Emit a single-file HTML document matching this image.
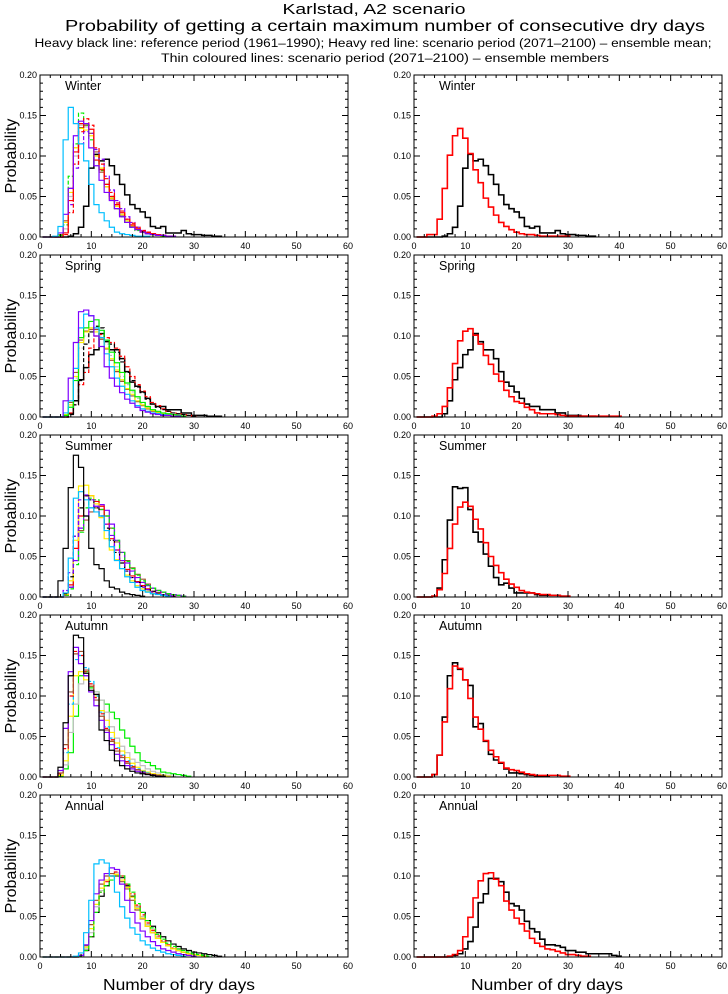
<!DOCTYPE html>
<html><head><meta charset="utf-8"><style>
body{margin:0;background:#fff;}
svg{display:block;font-family:"Liberation Sans",sans-serif;}
</style></head><body>
<svg id="chart" width="728" height="994" viewBox="0 0 728 994">
<rect width="728" height="994" fill="#fff"/>
<text x="374" y="14" font-size="15" text-anchor="middle" textLength="183" lengthAdjust="spacingAndGlyphs">Karlstad, A2 scenario</text>
<text x="385" y="31" font-size="16" text-anchor="middle" textLength="640" lengthAdjust="spacingAndGlyphs">Probability of getting a certain maximum number of consecutive dry days</text>
<text x="373" y="47" font-size="11.5" text-anchor="middle" textLength="677" lengthAdjust="spacingAndGlyphs">Heavy black line: reference period (1961–1990); Heavy red line: scenario period (2071–2100) – ensemble mean;</text>
<text x="385" y="62" font-size="11.5" text-anchor="middle" textLength="448" lengthAdjust="spacingAndGlyphs">Thin coloured lines: scenario period (2071–2100) – ensemble members</text>
<text x="179" y="990" font-size="16" text-anchor="middle" textLength="152" lengthAdjust="spacingAndGlyphs">Number of dry days</text>
<text x="547" y="990" font-size="16" text-anchor="middle" textLength="152" lengthAdjust="spacingAndGlyphs">Number of dry days</text>
</svg>
<script>
// values in thousandths, index 0 = day 1
const seasons = ["Winter","Spring","Summer","Autumn","Annual"];
const xTicks = [0,10,20,30,40,50,60];
const yTicks = ["0.00","0.05","0.10","0.15","0.20"];
const refWinter = [0,0,0,0,0,1,4,12,38,85,102,94,96,88,77,65,52,40,35,31,24,13,11,13,5,5,5,8,4,3,3,2,2,1,1];
const refSpring = [0,0,0,0,0,4,20,46,61,77,83,103,93,83,83,72,56,43,38,31,23,16,13,13,9,9,9,5,5,2,2,2,1,1,1];
const refSummer = [0,0,0,1,11,46,95,136,134,135,108,80,68,53,38,24,15,17,11,5,5,5,5,3,2,2,2,2,1,1];
const refAutumn = [0,0,0,3,27,74,125,141,133,120,113,62,66,44,28,21,17,10,5,5,4,3,2,1,1,1];
const refAnnual = [0,0,0,0,0,0,0,2,4,10,19,37,67,78,97,97,93,80,66,63,58,44,35,31,22,15,15,14,12,8,8,6,6,4,4,4,4,4,2,1];
const meanWinter = [0,0,3,3,22,60,101,125,134,122,103,83,67,48,37,27,18,13,9,6,4,3,3,2,1,1,1,1,1,1];
const meanSpring = [0,0,0,1,4,13,36,66,94,106,109,101,90,76,65,53,44,33,25,19,17,12,9,5,4,4,4,3,2,1,1,1,1,1,1,1,1,1,1,1];
const meanSummer = [0,0,0,1,9,29,60,90,111,117,112,96,84,67,50,39,30,22,16,12,8,6,5,4,3,3,2,2,1,1];
const meanAutumn = [0,0,0,3,27,68,109,137,134,120,97,74,59,45,33,25,18,11,9,8,6,4,3,2,2,2,2,2,1,1];
const meanAnnual = [0,0,0,0,0,0,1,3,8,25,49,73,94,103,104,96,88,69,58,48,41,32,23,17,13,10,9,7,5,3,3,2,1,1];
// ensemble members
const memWinterCyan = [0,0,1,13,120,160,140,115,94,65,40,30,20,12,6,4,3,2,1,1,1];
const memWinterPurple = [0,0,0,5,28,60,125,143,140,110,88,70,55,45,35,25,18,12,9,6,4,3,2,2,1,1];
const memWinterGreen = [0,0,0,2,15,75,115,153,138,120,95,82,65,50,35,25,18,12,8,6,4,3,2,1,1];
const memWinterRed = [0,0,0,0,5,45,105,140,140,133,95,83,65,50,40,30,22,15,10,7,5,4,3,2,1,1];
const memWinterRedDash = [0,0,0,0,3,30,90,130,146,138,110,90,72,55,42,32,22,17,12,8,6,4,3,2,1,1];
const memWinterYellow = [0,0,0,2,18,55,110,134,132,125,100,85,62,48,38,28,20,14,10,6,4,3,2,1,1];
const memWinterBrown = [0,0,0,3,20,60,110,135,138,128,105,80,62,47,35,26,18,13,9,6,4,3,2,1,1];
const memWinterGray = [0,0,0,1,10,50,100,138,136,128,100,85,65,50,38,28,20,14,10,7,5,3,2,1,1];
const memWinterPurpleDash = [0,0,0,0,5,40,85,115,130,128,108,96,75,58,45,35,25,18,12,8,6,4,3,2,1,1];
const memSpringPurple = [0,0,0,0,20,48,92,130,132,125,100,87,62,48,38,30,22,17,12,8,6,4,3,2,2,1,1];
const memSpringCyan = [0,0,0,0,5,20,60,110,127,125,110,98,78,62,48,38,28,20,14,10,7,5,4,3,2,1,1];
const memSpringGreen = [0,0,0,0,2,12,45,98,110,118,120,107,95,80,67,55,42,33,25,18,13,9,7,5,4,3,2,1];
const memSpringRedDash = [0,0,0,0,0,5,15,40,55,85,100,102,98,92,85,75,62,50,40,32,25,18,14,10,7,5,4,3,2,1];
const memSpringBlackDash = [0,0,0,0,0,3,15,45,90,105,112,110,95,90,80,68,55,45,37,30,22,16,12,9,7,5,4,3,2,1];
const memSpringYellow = [0,0,0,0,3,15,50,92,105,110,105,98,85,72,58,46,35,28,20,15,11,8,6,4,3,2,1];
const memSpringBrown = [0,0,0,0,3,18,55,95,106,108,108,96,84,70,56,44,34,26,19,14,10,7,5,4,3,2,1];
const memSpringGray = [0,0,0,0,2,15,48,85,100,105,105,100,90,76,62,50,40,31,23,17,12,9,7,5,3,2,1];
const memSummerBlack = [0,0,0,20,60,135,175,160,100,60,40,35,20,12,10,6,4,3,2,1];
const memSummerCyan = [0,0,0,0,5,48,122,130,120,110,105,100,82,62,45,35,25,18,12,8,6,4,3,2,1];
const memSummerPurpleDash = [0,0,0,0,8,30,75,120,126,120,112,100,90,76,58,45,32,24,18,12,9,6,4,3,2,1];
const memSummerYellow = [0,0,0,0,3,20,70,137,138,125,115,98,72,58,46,35,27,20,14,10,7,5,4,3,2,1];
const memSummerRed = [0,0,0,0,3,15,60,100,125,125,118,112,90,72,58,45,34,26,19,14,10,7,5,3,2,1];
const memSummerGreen = [0,0,0,0,2,10,40,80,110,122,120,108,100,85,70,55,44,35,27,20,15,11,8,6,4,3,2,1];
const memSummerPurple = [0,0,0,0,2,12,45,85,100,110,112,114,107,90,70,55,42,32,24,18,14,11,8,6,4,3,2,1];
const memSummerBrown = [0,0,0,0,2,12,45,82,95,105,110,108,100,85,68,55,45,36,28,22,16,11,8,6,4,3,2,1];
const memSummerBlackDash = [0,0,0,0,4,25,75,110,125,120,110,100,85,70,55,42,32,24,18,13,9,7,5,3,2,1];
const memAutumnBlack = [0,0,0,12,67,125,175,172,128,107,102,58,45,33,20,14,10,7,5,4,3,2,1,1];
const memAutumnPurple = [0,0,0,8,60,130,160,140,125,105,88,70,55,40,28,20,14,10,7,5,3,2,1,1];
const memAutumnBrown = [0,0,0,5,40,105,152,155,132,112,95,75,58,44,32,24,17,12,9,6,4,3,2,1];
const memAutumnRedDash = [0,0,0,4,35,100,155,150,130,115,98,78,60,46,35,26,19,13,9,6,4,3,2,1];
const memAutumnCyanDash = [0,0,0,4,30,90,145,150,135,118,100,80,62,48,36,27,20,14,10,7,5,3,2,1];
const memAutumnYellow = [0,0,0,2,20,75,125,130,120,112,100,82,70,55,42,32,24,17,12,8,6,4,3,2,1];
const memAutumnGray = [0,0,0,2,15,55,90,115,125,115,105,95,80,62,48,38,30,22,18,14,10,7,5,3,2,1];
const memAutumnGreen = [0,0,0,1,10,30,75,125,130,110,105,95,90,80,72,58,48,38,30,20,18,14,10,6,5,4,3,2,1];
const memAnnualCyan = [0,0,0,0,0,0,1,5,30,70,115,120,116,100,80,62,48,36,28,20,15,11,8,6,4,3,2,1];
const memAnnualPurple = [0,0,0,0,0,0,0,2,15,45,78,95,103,110,108,90,70,55,42,32,25,19,14,10,8,6,4,3,2,1];
const memAnnualBlack = [0,0,0,0,0,0,0,1,8,25,55,75,88,100,100,98,88,75,62,55,45,38,30,25,20,16,13,10,8,6,5,4,3,2,1];
const memAnnualGreenDash = [0,0,0,0,0,0,0,1,8,25,55,80,88,95,100,100,90,80,66,55,45,36,28,22,17,13,10,8,6,4,3,2,1];
const memAnnualYellow = [0,0,0,0,0,0,0,2,12,35,65,85,95,100,102,95,86,74,60,48,38,30,23,18,14,10,8,6,4,3,2,1];
const memAnnualRedDash = [0,0,0,0,0,0,0,1,8,25,55,80,93,100,105,100,90,78,64,52,42,33,26,20,15,11,8,6,4,3,2,1];
const memAnnualBrown = [0,0,0,0,0,0,0,2,14,40,70,90,100,103,100,93,84,70,58,47,38,30,23,18,14,10,8,6,4,3,2,1];
const memAnnualGray = [0,0,0,0,0,0,0,1,10,30,62,82,95,100,104,97,86,74,62,50,40,32,25,19,14,10,8,6,4,3,2,1];

const C={cyan:"#00bfff",purple:"#7f00ff",green:"#00ee00",red:"#ff0000",yellow:"#ffee00",brown:"#a0522d",gray:"#c0c0c0",black:"#000"};
const refs=[refWinter,refSpring,refSummer,refAutumn,refAnnual];
const means=[meanWinter,meanSpring,meanSummer,meanAutumn,meanAnnual];
const members=[
 [[refWinter,C.black,0],[memWinterGray,C.gray,0],[memWinterBrown,C.brown,0],[memWinterYellow,C.yellow,0],[memWinterPurpleDash,C.purple,1],[memWinterGreen,C.green,1],[memWinterRedDash,C.red,1],[memWinterRed,C.red,0],[memWinterPurple,C.purple,0],[memWinterCyan,C.cyan,0]],
 [[refSpring,C.black,0],[memSpringGray,C.gray,1],[memSpringBrown,C.brown,0],[memSpringYellow,C.yellow,0],[memSpringRedDash,C.red,1],[memSpringBlackDash,C.black,1],[memSpringGreen,C.green,0],[memSpringCyan,C.cyan,0],[memSpringPurple,C.purple,0]],
 [[memSummerBrown,C.brown,0],[memSummerPurple,C.purple,0],[memSummerGreen,C.green,1],[memSummerRed,C.red,0],[memSummerYellow,C.yellow,0],[memSummerBlackDash,C.black,1],[memSummerPurpleDash,C.purple,1],[memSummerCyan,C.cyan,0],[memSummerBlack,C.black,0]],
 [[memAutumnGreen,C.green,0],[memAutumnGray,C.gray,0],[memAutumnYellow,C.yellow,0],[memAutumnCyanDash,C.cyan,1],[memAutumnRedDash,C.red,1],[memAutumnBrown,C.brown,0],[memAutumnPurple,C.purple,0],[memAutumnBlack,C.black,0]],
 [[memAnnualBlack,C.black,0],[memAnnualGray,C.gray,0],[memAnnualBrown,C.brown,0],[memAnnualRedDash,C.red,1],[memAnnualYellow,C.yellow,0],[memAnnualGreenDash,C.green,1],[memAnnualPurple,C.purple,0],[memAnnualCyan,C.cyan,0]]
];

const NS="http://www.w3.org/2000/svg";
const svg=document.getElementById("chart");
function mk(tag,attrs,parent){const e=document.createElementNS(NS,tag);for(const k in attrs)e.setAttribute(k,attrs[k]);(parent||svg).appendChild(e);return e;}
const PW=308,PH=162;
function xs(x0,d){return x0+d*PW/60;}
function ys(y0,v){return y0+PH-(v/1000)*PH/0.2;}
function stepPath(x0,y0,arr){
  let p="";
  for(let i=0;i<arr.length;i++){
    const d=i+1;const xa=xs(x0,d-0.5),xb=xs(x0,d+0.5),y=ys(y0,arr[i]);
    p+=(i===0?"M"+xa+","+ys(y0,0)+" L":" L")+xa+","+y+" L"+xb+","+y;
  }
  return p;
}
function drawPanel(x0,y0,label,side,idx){
  const g=mk("g",{});
  
  
  const cg=mk("g",{},g);
  if(side==="left"){
    members[idx].forEach((m,k)=>{
      const p=mk("path",{d:stepPath(x0,y0,m[0]),fill:"none",stroke:m[1],"stroke-width":(m[1]===C.black&&m[0]===refs[idx])?1.5:1.2,"stroke-dasharray":m[2]?"4,2":"none"},cg);
      
      
    });
  } else {
    const pb=mk("path",{d:stepPath(x0,y0,refs[idx]),fill:"none",stroke:"#000","stroke-width":1.6},cg);
    
    
    const pr=mk("path",{d:stepPath(x0,y0,means[idx]),fill:"none",stroke:"#f00","stroke-width":1.6},cg);
    
    
  }
  const frame=mk("rect",{x:x0,y:y0,width:PW,height:PH,fill:"none",stroke:"#000","stroke-width":1},g);
  
  
  let t="";
  for(let d=0;d<=60;d+=2){const x=xs(x0,d);const L=d%10===0?6:3;t+="M"+x+","+(y0+PH)+"v"+(-L)+"M"+x+","+y0+"v"+L;}
  for(let v=0;v<=200;v+=10){const y=ys(y0,v);const L=v%50===0?6:3;t+="M"+x0+","+y+"h"+L+"M"+(x0+PW)+","+y+"h"+(-L);}
  const ticks=mk("path",{d:t,stroke:"#000","stroke-width":1,fill:"none"},g);
  
  
  xTicks.forEach(d=>{const tx=mk("text",{x:xs(x0,d),y:y0+PH+12,"font-size":9,"text-anchor":"middle"},g);tx.textContent=d;
    
    });
  yTicks.forEach((s,i)=>{const ty=mk("text",{x:x0-3,y:ys(y0,i*50)+3,"font-size":9,"text-anchor":"end"},g);ty.textContent=s;
    
    });
  const lb=mk("text",{x:x0+25,y:y0+15,"font-size":12.5},g);lb.textContent=label;
  
  
  if(side==="left"){
    const yt=mk("text",{x:0,y:0,"font-size":16,"text-anchor":"middle",transform:"translate(16,"+(y0+PH/2)+") rotate(-90)"},g);yt.textContent="Probability";
    
    
  }
}
seasons.forEach((s,i)=>{const y0=75+180*i;drawPanel(40,y0,s,"left",i);drawPanel(414,y0,s,"right",i);});
</script>
</body></html>
